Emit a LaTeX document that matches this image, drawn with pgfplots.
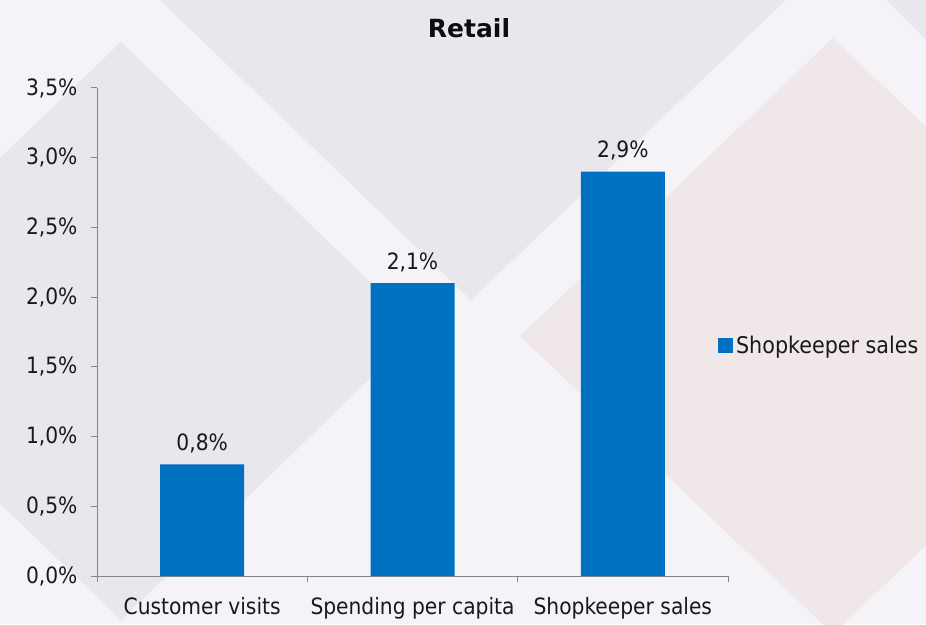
\documentclass[border=0pt]{standalone}
\usepackage{pgfplots}
\pgfplotsset{compat=1.18}
\usepackage{fontspec}
\setmainfont{DejaVu Sans Condensed}
\newfontfamily\titlefont{DejaVu Sans}
\definecolor{barblue}{HTML}{0070C0}
\definecolor{bgl}{HTML}{F4F4F8}
\definecolor{bgg}{HTML}{E8E7ED}
\definecolor{bgp}{HTML}{F0E7E9}
\definecolor{axgrey}{HTML}{868686}
\begin{document}
\begin{tikzpicture}[x=1pt,y=1pt]
\fill[bgl] (0,0) rectangle (926,624);
\begin{scope}
\clip (0,0) rectangle (926,624);
\fill[bgg] (160,624) -- (471,324) -- (786,624) -- cycle;
\fill[bgg] (121,582) -- (420,294) -- (121,4) -- (-180,294) -- cycle;
\fill[bgp] (833,586) -- (520,288) -- (833,-10) -- (1146,288) -- cycle;
\fill[bgg] (886,624) -- (950,560) -- (950,624) -- cycle;
\end{scope}
\node[font=\titlefont\fontsize{25}{30}\selectfont\bfseries, text=black!95] at (469,596) {Retail};
\begin{axis}[
  at={(97pt,48pt)}, anchor=south west,
  scale only axis, width=631pt, height=488pt,
  clip=false,
  xmin=-0.5, xmax=2.5, ymin=0, ymax=3.5,
  axis x line*=bottom, axis y line*=left,
  axis line style={axgrey, line width=1pt},
  tick style={axgrey, line width=1pt},
  tick align=outside,
  major tick length=6pt,
  /pgf/number format/assume math mode=true,
  xtick={-0.5,0.5,1.5,2.5}, xticklabels={},
  extra x ticks={0,1,2},
  extra x tick labels={Customer visits, Spending per capita, Shopkeeper sales},
  extra x tick style={major tick length=0pt, xticklabel style={yshift=-18pt}},
  ytick={0,0.5,1,1.5,2,2.5,3,3.5},
  yticklabel={\pgfmathprintnumber[fixed,fixed zerofill,precision=1,use comma]{\tick}\%},
  yticklabel style={xshift=-10pt},
  ticklabel style={font=\fontsize{22.5}{26}\selectfont, text=black!90},
  ybar, bar width=84pt,
  nodes near coords={\pgfmathprintnumber[fixed,fixed zerofill,precision=1,use comma]{\pgfplotspointmeta}\%},
  nodes near coords style={font=\fontsize{22.5}{26}\selectfont, text=black!90, yshift=8pt},
  legend style={at={(0.984,0.473)}, anchor=west, draw=none, fill=none,
    font=\fontsize{23}{26}\selectfont, text=black!90, inner sep=0pt},
  legend image code/.code={\fill[barblue] (0pt,-7.5pt) rectangle (15pt,7.5pt);},
  legend style={nodes={inner xsep=3pt}},
]
\addplot[fill=barblue, draw=none] coordinates {(0,0.8) (1,2.1) (2,2.9)};
\addlegendentry{Shopkeeper sales}
\end{axis}
\end{tikzpicture}
\end{document}
